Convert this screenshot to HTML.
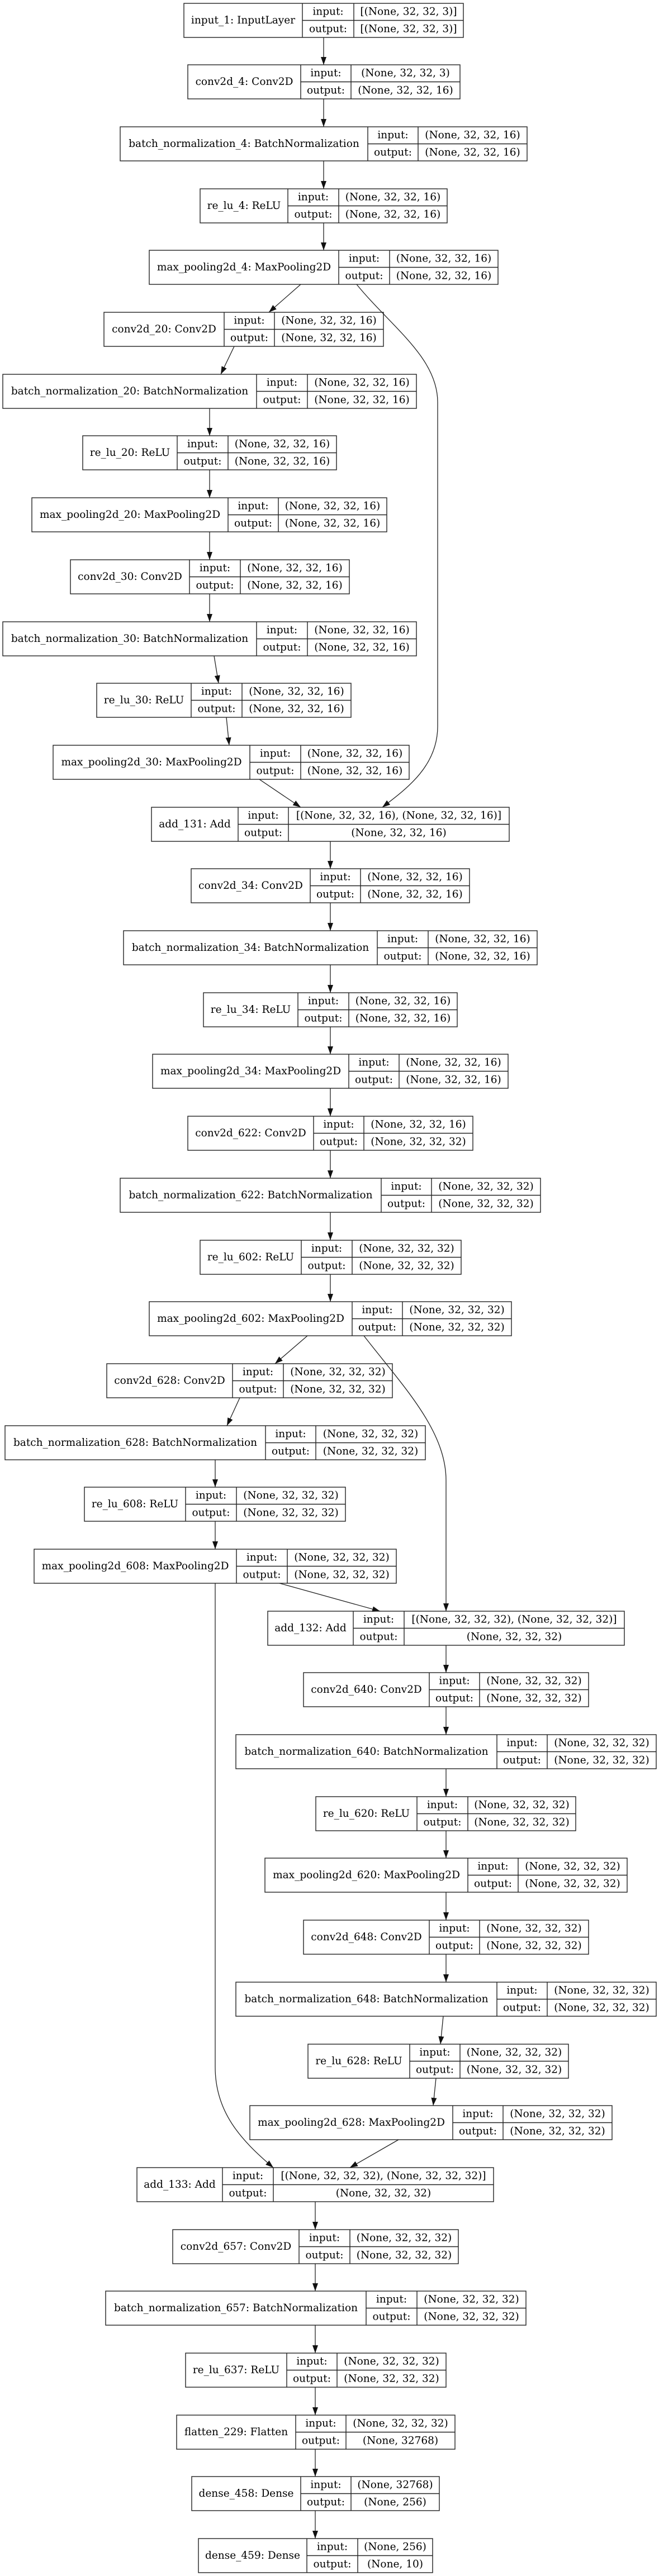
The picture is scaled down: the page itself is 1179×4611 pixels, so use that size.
<!DOCTYPE html>
<html><head><meta charset="utf-8">
<style>
html,body{margin:0;padding:0;background:#fff;}
svg{display:block;}
text{font-family:"DejaVu Serif","Liberation Serif",serif;font-size:18.5px;fill:#000;text-anchor:middle;dominant-baseline:central;}
.b{fill:none;stroke:#222;stroke-width:1.4;}
.e{fill:none;stroke:#222;stroke-width:1.3;}
.a{fill:#111;stroke:#111;stroke-width:1;}
</style></head>
<body>
<svg width="1179" height="4611" viewBox="0 0 1179 4611" xmlns="http://www.w3.org/2000/svg">
<defs>
<marker id="ar" viewBox="0 0 14 10" refX="14" refY="5" markerWidth="14" markerHeight="10" markerUnits="userSpaceOnUse" orient="auto">
<path d="M0,0 L14,5 L0,10 z" fill="#111"/>
</marker>
</defs>

<!-- edges -->
<g class="e" marker-end="url(#ar)">
<line x1="579" y1="67" x2="579" y2="116"/>
<line x1="579" y1="177" x2="579" y2="227"/>
<line x1="579" y1="288" x2="579" y2="338"/>
<line x1="579" y1="399" x2="579" y2="448"/>
<line x1="538" y1="509" x2="481" y2="559"/>
<path d="M638,509 C700,585 783,640 783,720 L783,1300 C783,1370 730,1410 684,1445"/>
<line x1="419" y1="620" x2="395" y2="670"/>
<line x1="375" y1="731" x2="375" y2="780"/>
<line x1="375" y1="841" x2="375" y2="891"/>
<line x1="375" y1="952" x2="375" y2="1002"/>
<line x1="375" y1="1063" x2="375" y2="1113"/>
<line x1="383" y1="1174" x2="391" y2="1223"/>
<line x1="405" y1="1284" x2="410" y2="1334"/>
<line x1="464" y1="1395" x2="538" y2="1445"/>
<line x1="591" y1="1506" x2="591" y2="1555"/>
<line x1="591" y1="1616" x2="591" y2="1666"/>
<line x1="591" y1="1727" x2="591" y2="1777"/>
<line x1="591" y1="1838" x2="591" y2="1887"/>
<line x1="591" y1="1948" x2="591" y2="1998"/>
<line x1="591" y1="2059" x2="591" y2="2109"/>
<line x1="591" y1="2170" x2="591" y2="2220"/>
<line x1="591" y1="2281" x2="591" y2="2330"/>
<line x1="550" y1="2391" x2="492" y2="2441"/>
<path d="M651,2391 C720,2480 798,2560 798,2650 L798,2884"/>
<line x1="429" y1="2502" x2="406" y2="2552"/>
<line x1="385" y1="2613" x2="385" y2="2662"/>
<line x1="385" y1="2723" x2="385" y2="2773"/>
<line x1="500" y1="2834" x2="680" y2="2884"/>
<path d="M385,2834 L385,3700 C385,3780 430,3830 489,3880"/>
<line x1="798" y1="2945" x2="798" y2="2994"/>
<line x1="798" y1="3055" x2="798" y2="3105"/>
<line x1="798" y1="3166" x2="798" y2="3216"/>
<line x1="798" y1="3277" x2="798" y2="3326"/>
<line x1="798" y1="3387" x2="798" y2="3437"/>
<line x1="798" y1="3498" x2="798" y2="3548"/>
<line x1="793" y1="3609" x2="788" y2="3659"/>
<line x1="780" y1="3720" x2="775" y2="3769"/>
<line x1="713" y1="3830" x2="626" y2="3880"/>
<line x1="564" y1="3941" x2="564" y2="3991"/>
<line x1="564" y1="4052" x2="564" y2="4101"/>
<line x1="564" y1="4162" x2="564" y2="4212"/>
<line x1="564" y1="4273" x2="564" y2="4323"/>
<line x1="564" y1="4384" x2="564" y2="4433"/>
<line x1="564" y1="4494" x2="564" y2="4544"/>
</g>

<!-- nodes -->
<g id="n0"><rect class="b" x="329" y="6" width="500" height="61"/><line class="b" x1="541" y1="6" x2="541" y2="67"/><line class="b" x1="633" y1="6" x2="633" y2="67"/><line class="b" x1="541" y1="36.5" x2="829" y2="36.5"/>
<text x="435" y="36.5">input_1: InputLayer</text><text x="587" y="21">input:</text><text x="587" y="52">output:</text><text x="731" y="21">[(None, 32, 32, 3)]</text><text x="731" y="52">[(None, 32, 32, 3)]</text></g>

<g><rect class="b" x="336" y="116" width="487" height="61"/><line class="b" x1="538" y1="116" x2="538" y2="177"/><line class="b" x1="628" y1="116" x2="628" y2="177"/><line class="b" x1="538" y1="146.5" x2="823" y2="146.5"/>
<text x="437" y="146.5">conv2d_4: Conv2D</text><text x="583" y="131">input:</text><text x="583" y="162">output:</text><text x="725.5" y="131">(None, 32, 32, 3)</text><text x="725.5" y="162">(None, 32, 32, 16)</text></g>

<g><rect class="b" x="215" y="227" width="728" height="61"/><line class="b" x1="658" y1="227" x2="658" y2="288"/><line class="b" x1="748" y1="227" x2="748" y2="288"/><line class="b" x1="658" y1="257.5" x2="943" y2="257.5"/>
<text x="436.5" y="257.5">batch_normalization_4: BatchNormalization</text><text x="703" y="242">input:</text><text x="703" y="273">output:</text><text x="845.5" y="242">(None, 32, 32, 16)</text><text x="845.5" y="273">(None, 32, 32, 16)</text></g>

<g><rect class="b" x="358" y="338" width="442" height="61"/><line class="b" x1="515" y1="338" x2="515" y2="399"/><line class="b" x1="606" y1="338" x2="606" y2="399"/><line class="b" x1="515" y1="368.5" x2="800" y2="368.5"/>
<text x="436.5" y="368.5">re_lu_4: ReLU</text><text x="560.5" y="353">input:</text><text x="560.5" y="384">output:</text><text x="703" y="353">(None, 32, 32, 16)</text><text x="703" y="384">(None, 32, 32, 16)</text></g>

<g><rect class="b" x="267" y="448" width="624" height="61"/><line class="b" x1="606" y1="448" x2="606" y2="509"/><line class="b" x1="697" y1="448" x2="697" y2="509"/><line class="b" x1="606" y1="478.5" x2="891" y2="478.5"/>
<text x="436.5" y="478.5">max_pooling2d_4: MaxPooling2D</text><text x="651.5" y="463">input:</text><text x="651.5" y="494">output:</text><text x="794" y="463">(None, 32, 32, 16)</text><text x="794" y="494">(None, 32, 32, 16)</text></g>

<g><rect class="b" x="186" y="559" width="500" height="61"/><line class="b" x1="401" y1="559" x2="401" y2="620"/><line class="b" x1="491" y1="559" x2="491" y2="620"/><line class="b" x1="401" y1="589.5" x2="686" y2="589.5"/>
<text x="293.5" y="589.5">conv2d_20: Conv2D</text><text x="446" y="574">input:</text><text x="446" y="605">output:</text><text x="588.5" y="574">(None, 32, 32, 16)</text><text x="588.5" y="605">(None, 32, 32, 16)</text></g>

<g><rect class="b" x="5" y="670" width="740" height="61"/><line class="b" x1="459" y1="670" x2="459" y2="731"/><line class="b" x1="550" y1="670" x2="550" y2="731"/><line class="b" x1="459" y1="700.5" x2="745" y2="700.5"/>
<text x="232" y="700.5">batch_normalization_20: BatchNormalization</text><text x="504.5" y="685">input:</text><text x="504.5" y="716">output:</text><text x="647.5" y="685">(None, 32, 32, 16)</text><text x="647.5" y="716">(None, 32, 32, 16)</text></g>

<g><rect class="b" x="148" y="780" width="454" height="61"/><line class="b" x1="317" y1="780" x2="317" y2="841"/><line class="b" x1="408" y1="780" x2="408" y2="841"/><line class="b" x1="317" y1="810.5" x2="602" y2="810.5"/>
<text x="232.5" y="810.5">re_lu_20: ReLU</text><text x="362.5" y="795">input:</text><text x="362.5" y="826">output:</text><text x="505" y="795">(None, 32, 32, 16)</text><text x="505" y="826">(None, 32, 32, 16)</text></g>

<g><rect class="b" x="57" y="891" width="635" height="61"/><line class="b" x1="408" y1="891" x2="408" y2="952"/><line class="b" x1="498" y1="891" x2="498" y2="952"/><line class="b" x1="408" y1="921.5" x2="692" y2="921.5"/>
<text x="232.5" y="921.5">max_pooling2d_20: MaxPooling2D</text><text x="453" y="906">input:</text><text x="453" y="937">output:</text><text x="595" y="906">(None, 32, 32, 16)</text><text x="595" y="937">(None, 32, 32, 16)</text></g>

<g><rect class="b" x="126" y="1002" width="499" height="61"/><line class="b" x1="339" y1="1002" x2="339" y2="1063"/><line class="b" x1="430" y1="1002" x2="430" y2="1063"/><line class="b" x1="339" y1="1032.5" x2="625" y2="1032.5"/>
<text x="232.5" y="1032.5">conv2d_30: Conv2D</text><text x="384.5" y="1017">input:</text><text x="384.5" y="1048">output:</text><text x="527.5" y="1017">(None, 32, 32, 16)</text><text x="527.5" y="1048">(None, 32, 32, 16)</text></g>

<g><rect class="b" x="5" y="1113" width="740" height="61"/><line class="b" x1="459" y1="1113" x2="459" y2="1174"/><line class="b" x1="550" y1="1113" x2="550" y2="1174"/><line class="b" x1="459" y1="1143.5" x2="745" y2="1143.5"/>
<text x="232" y="1143.5">batch_normalization_30: BatchNormalization</text><text x="504.5" y="1128">input:</text><text x="504.5" y="1159">output:</text><text x="647.5" y="1128">(None, 32, 32, 16)</text><text x="647.5" y="1159">(None, 32, 32, 16)</text></g>

<g><rect class="b" x="173" y="1223" width="455" height="61"/><line class="b" x1="342" y1="1223" x2="342" y2="1284"/><line class="b" x1="433" y1="1223" x2="433" y2="1284"/><line class="b" x1="342" y1="1253.5" x2="628" y2="1253.5"/>
<text x="257.5" y="1253.5">re_lu_30: ReLU</text><text x="387.5" y="1238">input:</text><text x="387.5" y="1269">output:</text><text x="530.5" y="1238">(None, 32, 32, 16)</text><text x="530.5" y="1269">(None, 32, 32, 16)</text></g>

<g><rect class="b" x="95" y="1334" width="637" height="61"/><line class="b" x1="447" y1="1334" x2="447" y2="1395"/><line class="b" x1="538" y1="1334" x2="538" y2="1395"/><line class="b" x1="447" y1="1364.5" x2="732" y2="1364.5"/>
<text x="271" y="1364.5">max_pooling2d_30: MaxPooling2D</text><text x="492.5" y="1349">input:</text><text x="492.5" y="1380">output:</text><text x="635" y="1349">(None, 32, 32, 16)</text><text x="635" y="1380">(None, 32, 32, 16)</text></g>

<g><rect class="b" x="271" y="1445" width="640" height="61"/><line class="b" x1="426" y1="1445" x2="426" y2="1506"/><line class="b" x1="516" y1="1445" x2="516" y2="1506"/><line class="b" x1="426" y1="1475.5" x2="911" y2="1475.5"/>
<text x="348.5" y="1475.5">add_131: Add</text><text x="471" y="1460">input:</text><text x="471" y="1491">output:</text><text x="713.5" y="1460">[(None, 32, 32, 16), (None, 32, 32, 16)]</text><text x="713.5" y="1491">(None, 32, 32, 16)</text></g>

<g><rect class="b" x="342" y="1555" width="498" height="61"/><line class="b" x1="555" y1="1555" x2="555" y2="1616"/><line class="b" x1="645" y1="1555" x2="645" y2="1616"/><line class="b" x1="555" y1="1585.5" x2="840" y2="1585.5"/>
<text x="448.5" y="1585.5">conv2d_34: Conv2D</text><text x="600" y="1570">input:</text><text x="600" y="1601">output:</text><text x="742.5" y="1570">(None, 32, 32, 16)</text><text x="742.5" y="1601">(None, 32, 32, 16)</text></g>

<g><rect class="b" x="221" y="1666" width="740" height="61"/><line class="b" x1="675" y1="1666" x2="675" y2="1727"/><line class="b" x1="766" y1="1666" x2="766" y2="1727"/><line class="b" x1="675" y1="1696.5" x2="961" y2="1696.5"/>
<text x="448" y="1696.5">batch_normalization_34: BatchNormalization</text><text x="720.5" y="1681">input:</text><text x="720.5" y="1712">output:</text><text x="863.5" y="1681">(None, 32, 32, 16)</text><text x="863.5" y="1712">(None, 32, 32, 16)</text></g>

<g><rect class="b" x="364" y="1777" width="454" height="61"/><line class="b" x1="533" y1="1777" x2="533" y2="1838"/><line class="b" x1="624" y1="1777" x2="624" y2="1838"/><line class="b" x1="533" y1="1807.5" x2="818" y2="1807.5"/>
<text x="448.5" y="1807.5">re_lu_34: ReLU</text><text x="578.5" y="1792">input:</text><text x="578.5" y="1823">output:</text><text x="721" y="1792">(None, 32, 32, 16)</text><text x="721" y="1823">(None, 32, 32, 16)</text></g>

<g><rect class="b" x="273" y="1887" width="636" height="61"/><line class="b" x1="624" y1="1887" x2="624" y2="1948"/><line class="b" x1="714" y1="1887" x2="714" y2="1948"/><line class="b" x1="624" y1="1917.5" x2="909" y2="1917.5"/>
<text x="448.5" y="1917.5">max_pooling2d_34: MaxPooling2D</text><text x="669" y="1902">input:</text><text x="669" y="1933">output:</text><text x="811.5" y="1902">(None, 32, 32, 16)</text><text x="811.5" y="1933">(None, 32, 32, 16)</text></g>

<g><rect class="b" x="336" y="1998" width="510" height="61"/><line class="b" x1="561" y1="1998" x2="561" y2="2059"/><line class="b" x1="651" y1="1998" x2="651" y2="2059"/><line class="b" x1="561" y1="2028.5" x2="846" y2="2028.5"/>
<text x="448.5" y="2028.5">conv2d_622: Conv2D</text><text x="606" y="2013">input:</text><text x="606" y="2044">output:</text><text x="748.5" y="2013">(None, 32, 32, 16)</text><text x="748.5" y="2044">(None, 32, 32, 32)</text></g>

<g><rect class="b" x="215" y="2109" width="752" height="61"/><line class="b" x1="682" y1="2109" x2="682" y2="2170"/><line class="b" x1="772" y1="2109" x2="772" y2="2170"/><line class="b" x1="682" y1="2139.5" x2="967" y2="2139.5"/>
<text x="448.5" y="2139.5">batch_normalization_622: BatchNormalization</text><text x="727" y="2124">input:</text><text x="727" y="2155">output:</text><text x="869.5" y="2124">(None, 32, 32, 32)</text><text x="869.5" y="2155">(None, 32, 32, 32)</text></g>

<g><rect class="b" x="358" y="2220" width="467" height="61"/><line class="b" x1="539" y1="2220" x2="539" y2="2281"/><line class="b" x1="630" y1="2220" x2="630" y2="2281"/><line class="b" x1="539" y1="2250.5" x2="825" y2="2250.5"/>
<text x="448.5" y="2250.5">re_lu_602: ReLU</text><text x="584.5" y="2235">input:</text><text x="584.5" y="2266">output:</text><text x="727.5" y="2235">(None, 32, 32, 32)</text><text x="727.5" y="2266">(None, 32, 32, 32)</text></g>

<g><rect class="b" x="267" y="2330" width="648" height="61"/><line class="b" x1="630" y1="2330" x2="630" y2="2391"/><line class="b" x1="720" y1="2330" x2="720" y2="2391"/><line class="b" x1="630" y1="2360.5" x2="915" y2="2360.5"/>
<text x="448.5" y="2360.5">max_pooling2d_602: MaxPooling2D</text><text x="675" y="2345">input:</text><text x="675" y="2376">output:</text><text x="817.5" y="2345">(None, 32, 32, 32)</text><text x="817.5" y="2376">(None, 32, 32, 32)</text></g>

<g><rect class="b" x="191" y="2441" width="511" height="61"/><line class="b" x1="416" y1="2441" x2="416" y2="2502"/><line class="b" x1="507" y1="2441" x2="507" y2="2502"/><line class="b" x1="416" y1="2471.5" x2="702" y2="2471.5"/>
<text x="303.5" y="2471.5">conv2d_628: Conv2D</text><text x="461.5" y="2456">input:</text><text x="461.5" y="2487">output:</text><text x="604.5" y="2456">(None, 32, 32, 32)</text><text x="604.5" y="2487">(None, 32, 32, 32)</text></g>

<g><rect class="b" x="9" y="2552" width="752" height="61"/><line class="b" x1="475" y1="2552" x2="475" y2="2613"/><line class="b" x1="565" y1="2552" x2="565" y2="2613"/><line class="b" x1="475" y1="2582.5" x2="761" y2="2582.5"/>
<text x="242" y="2582.5">batch_normalization_628: BatchNormalization</text><text x="520" y="2567">input:</text><text x="520" y="2598">output:</text><text x="663" y="2567">(None, 32, 32, 32)</text><text x="663" y="2598">(None, 32, 32, 32)</text></g>

<g><rect class="b" x="151" y="2662" width="467" height="61"/><line class="b" x1="332" y1="2662" x2="332" y2="2723"/><line class="b" x1="423" y1="2662" x2="423" y2="2723"/><line class="b" x1="332" y1="2692.5" x2="618" y2="2692.5"/>
<text x="241.5" y="2692.5">re_lu_608: ReLU</text><text x="377.5" y="2677">input:</text><text x="377.5" y="2708">output:</text><text x="520.5" y="2677">(None, 32, 32, 32)</text><text x="520.5" y="2708">(None, 32, 32, 32)</text></g>

<g><rect class="b" x="61" y="2773" width="648" height="61"/><line class="b" x1="423" y1="2773" x2="423" y2="2834"/><line class="b" x1="514" y1="2773" x2="514" y2="2834"/><line class="b" x1="423" y1="2803.5" x2="709" y2="2803.5"/>
<text x="242" y="2803.5">max_pooling2d_608: MaxPooling2D</text><text x="468.5" y="2788">input:</text><text x="468.5" y="2819">output:</text><text x="611.5" y="2788">(None, 32, 32, 32)</text><text x="611.5" y="2819">(None, 32, 32, 32)</text></g>

<g><rect class="b" x="479" y="2884" width="638" height="61"/><line class="b" x1="632" y1="2884" x2="632" y2="2945"/><line class="b" x1="723" y1="2884" x2="723" y2="2945"/><line class="b" x1="632" y1="2914.5" x2="1117" y2="2914.5"/>
<text x="555.5" y="2914.5">add_132: Add</text><text x="677.5" y="2899">input:</text><text x="677.5" y="2930">output:</text><text x="920" y="2899">[(None, 32, 32, 32), (None, 32, 32, 32)]</text><text x="920" y="2930">(None, 32, 32, 32)</text></g>

<g><rect class="b" x="543" y="2994" width="510" height="61"/><line class="b" x1="768" y1="2994" x2="768" y2="3055"/><line class="b" x1="858" y1="2994" x2="858" y2="3055"/><line class="b" x1="768" y1="3024.5" x2="1053" y2="3024.5"/>
<text x="655.5" y="3024.5">conv2d_640: Conv2D</text><text x="813" y="3009">input:</text><text x="813" y="3040">output:</text><text x="955.5" y="3009">(None, 32, 32, 32)</text><text x="955.5" y="3040">(None, 32, 32, 32)</text></g>

<g><rect class="b" x="422" y="3105" width="752" height="61"/><line class="b" x1="889" y1="3105" x2="889" y2="3166"/><line class="b" x1="979" y1="3105" x2="979" y2="3166"/><line class="b" x1="889" y1="3135.5" x2="1174" y2="3135.5"/>
<text x="655.5" y="3135.5">batch_normalization_640: BatchNormalization</text><text x="934" y="3120">input:</text><text x="934" y="3151">output:</text><text x="1076.5" y="3120">(None, 32, 32, 32)</text><text x="1076.5" y="3151">(None, 32, 32, 32)</text></g>

<g><rect class="b" x="565" y="3216" width="465" height="61"/><line class="b" x1="746" y1="3216" x2="746" y2="3277"/><line class="b" x1="837" y1="3216" x2="837" y2="3277"/><line class="b" x1="746" y1="3246.5" x2="1030" y2="3246.5"/>
<text x="655.5" y="3246.5">re_lu_620: ReLU</text><text x="791.5" y="3231">input:</text><text x="791.5" y="3262">output:</text><text x="933.5" y="3231">(None, 32, 32, 32)</text><text x="933.5" y="3262">(None, 32, 32, 32)</text></g>

<g><rect class="b" x="474" y="3326" width="648" height="61"/><line class="b" x1="837" y1="3326" x2="837" y2="3387"/><line class="b" x1="927" y1="3326" x2="927" y2="3387"/><line class="b" x1="837" y1="3356.5" x2="1122" y2="3356.5"/>
<text x="655.5" y="3356.5">max_pooling2d_620: MaxPooling2D</text><text x="882" y="3341">input:</text><text x="882" y="3372">output:</text><text x="1024.5" y="3341">(None, 32, 32, 32)</text><text x="1024.5" y="3372">(None, 32, 32, 32)</text></g>

<g><rect class="b" x="543" y="3437" width="510" height="61"/><line class="b" x1="768" y1="3437" x2="768" y2="3498"/><line class="b" x1="858" y1="3437" x2="858" y2="3498"/><line class="b" x1="768" y1="3467.5" x2="1053" y2="3467.5"/>
<text x="655.5" y="3467.5">conv2d_648: Conv2D</text><text x="813" y="3452">input:</text><text x="813" y="3483">output:</text><text x="955.5" y="3452">(None, 32, 32, 32)</text><text x="955.5" y="3483">(None, 32, 32, 32)</text></g>

<g><rect class="b" x="422" y="3548" width="752" height="61"/><line class="b" x1="889" y1="3548" x2="889" y2="3609"/><line class="b" x1="979" y1="3548" x2="979" y2="3609"/><line class="b" x1="889" y1="3578.5" x2="1174" y2="3578.5"/>
<text x="655.5" y="3578.5">batch_normalization_648: BatchNormalization</text><text x="934" y="3563">input:</text><text x="934" y="3594">output:</text><text x="1076.5" y="3563">(None, 32, 32, 32)</text><text x="1076.5" y="3594">(None, 32, 32, 32)</text></g>

<g><rect class="b" x="551" y="3659" width="466" height="61"/><line class="b" x1="733" y1="3659" x2="733" y2="3720"/><line class="b" x1="823" y1="3659" x2="823" y2="3720"/><line class="b" x1="733" y1="3689.5" x2="1017" y2="3689.5"/>
<text x="642" y="3689.5">re_lu_628: ReLU</text><text x="778" y="3674">input:</text><text x="778" y="3705">output:</text><text x="920" y="3674">(None, 32, 32, 32)</text><text x="920" y="3705">(None, 32, 32, 32)</text></g>

<g><rect class="b" x="447" y="3769" width="648" height="61"/><line class="b" x1="810" y1="3769" x2="810" y2="3830"/><line class="b" x1="900" y1="3769" x2="900" y2="3830"/><line class="b" x1="810" y1="3799.5" x2="1095" y2="3799.5"/>
<text x="628.5" y="3799.5">max_pooling2d_628: MaxPooling2D</text><text x="855" y="3784">input:</text><text x="855" y="3815">output:</text><text x="997.5" y="3784">(None, 32, 32, 32)</text><text x="997.5" y="3815">(None, 32, 32, 32)</text></g>

<g><rect class="b" x="245" y="3880" width="638" height="61"/><line class="b" x1="398" y1="3880" x2="398" y2="3941"/><line class="b" x1="489" y1="3880" x2="489" y2="3941"/><line class="b" x1="398" y1="3910.5" x2="883" y2="3910.5"/>
<text x="321.5" y="3910.5">add_133: Add</text><text x="443.5" y="3895">input:</text><text x="443.5" y="3926">output:</text><text x="686" y="3895">[(None, 32, 32, 32), (None, 32, 32, 32)]</text><text x="686" y="3926">(None, 32, 32, 32)</text></g>

<g><rect class="b" x="309" y="3991" width="511" height="61"/><line class="b" x1="535" y1="3991" x2="535" y2="4052"/><line class="b" x1="626" y1="3991" x2="626" y2="4052"/><line class="b" x1="535" y1="4021.5" x2="820" y2="4021.5"/>
<text x="422" y="4021.5">conv2d_657: Conv2D</text><text x="580.5" y="4006">input:</text><text x="580.5" y="4037">output:</text><text x="723" y="4006">(None, 32, 32, 32)</text><text x="723" y="4037">(None, 32, 32, 32)</text></g>

<g><rect class="b" x="189" y="4101" width="752" height="61"/><line class="b" x1="655" y1="4101" x2="655" y2="4162"/><line class="b" x1="746" y1="4101" x2="746" y2="4162"/><line class="b" x1="655" y1="4131.5" x2="941" y2="4131.5"/>
<text x="422" y="4131.5">batch_normalization_657: BatchNormalization</text><text x="700.5" y="4116">input:</text><text x="700.5" y="4147">output:</text><text x="843.5" y="4116">(None, 32, 32, 32)</text><text x="843.5" y="4147">(None, 32, 32, 32)</text></g>

<g><rect class="b" x="332" y="4212" width="466" height="61"/><line class="b" x1="513" y1="4212" x2="513" y2="4273"/><line class="b" x1="603" y1="4212" x2="603" y2="4273"/><line class="b" x1="513" y1="4242.5" x2="798" y2="4242.5"/>
<text x="422.5" y="4242.5">re_lu_637: ReLU</text><text x="558" y="4227">input:</text><text x="558" y="4258">output:</text><text x="700.5" y="4227">(None, 32, 32, 32)</text><text x="700.5" y="4258">(None, 32, 32, 32)</text></g>

<g><rect class="b" x="316" y="4323" width="498" height="61"/><line class="b" x1="529" y1="4323" x2="529" y2="4384"/><line class="b" x1="619" y1="4323" x2="619" y2="4384"/><line class="b" x1="529" y1="4353.5" x2="814" y2="4353.5"/>
<text x="422.5" y="4353.5">flatten_229: Flatten</text><text x="574" y="4338">input:</text><text x="574" y="4369">output:</text><text x="716.5" y="4338">(None, 32, 32, 32)</text><text x="716.5" y="4369">(None, 32768)</text></g>

<g><rect class="b" x="343" y="4433" width="443" height="61"/><line class="b" x1="538" y1="4433" x2="538" y2="4494"/><line class="b" x1="628" y1="4433" x2="628" y2="4494"/><line class="b" x1="538" y1="4463.5" x2="786" y2="4463.5"/>
<text x="440.5" y="4463.5">dense_458: Dense</text><text x="583" y="4448">input:</text><text x="583" y="4479">output:</text><text x="707" y="4448">(None, 32768)</text><text x="707" y="4479">(None, 256)</text></g>

<g><rect class="b" x="355" y="4544" width="419" height="61"/><line class="b" x1="549" y1="4544" x2="549" y2="4605"/><line class="b" x1="640" y1="4544" x2="640" y2="4605"/><line class="b" x1="549" y1="4574.5" x2="774" y2="4574.5"/>
<text x="452" y="4574.5">dense_459: Dense</text><text x="594.5" y="4559">input:</text><text x="594.5" y="4590">output:</text><text x="707" y="4559">(None, 256)</text><text x="707" y="4590">(None, 10)</text></g>
</svg>
</body></html>
